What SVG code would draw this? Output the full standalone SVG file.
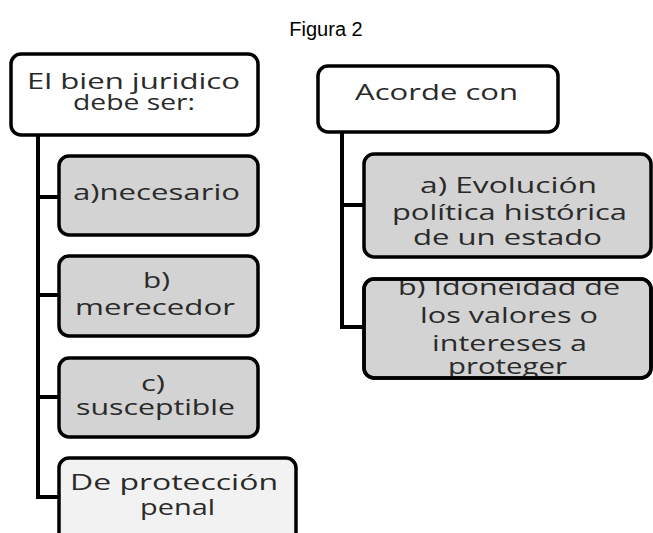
<svg xmlns="http://www.w3.org/2000/svg" width="653" height="533" viewBox="0 0 653 533">
<style>
.box{stroke:#000;stroke-width:3.5}
.w{fill:#fff}
.g{fill:#d3d3d3}
.l{fill:#f2f2f2}
.n{fill:none}
.t{font-family:"Open Sans","Noto Sans",sans-serif;font-size:22px;fill:#2a2a2a;text-anchor:middle}
.c{stroke:#000;stroke-width:4;fill:none}
</style>
<rect width="653" height="533" fill="#fff"/>
<text x="326" y="36" font-family="Liberation Sans, Arial, sans-serif" font-size="20" text-anchor="middle" fill="#000">Figura 2</text>
<g id="connectors">
<path class="c" d="M38 135 V497 M36 197 H58 M36 295 H58 M36 397 H58 M36 497 H58"/>
<path class="c" d="M342 132 V327 M340 205 H363 M340 327 H363"/>
</g>
<g id="n1"><rect class="box w" x="11" y="54" width="247" height="81" rx="10"/>
<text class="t" x="133.5" y="89" textLength="213" lengthAdjust="spacingAndGlyphs">El bien juridico</text>
<text class="t" x="134" y="110" textLength="122" lengthAdjust="spacingAndGlyphs">debe ser:</text></g>
<g id="n2"><rect class="box g" x="59" y="156" width="199" height="79" rx="10"/>
<text class="t" x="156.5" y="200" textLength="167" lengthAdjust="spacingAndGlyphs">a)necesario</text></g>
<g id="n3"><rect class="box g" x="59" y="256" width="199" height="80" rx="10"/>
<text class="t" x="156.5" y="288" textLength="27" lengthAdjust="spacingAndGlyphs">b)</text>
<text class="t" x="155" y="315" textLength="160" lengthAdjust="spacingAndGlyphs">merecedor</text></g>
<g id="n4"><rect class="box g" x="59" y="358" width="199" height="79" rx="10"/>
<text class="t" x="153" y="391" textLength="24" lengthAdjust="spacingAndGlyphs">c)</text>
<text class="t" x="155.5" y="415" textLength="159" lengthAdjust="spacingAndGlyphs">susceptible</text></g>
<g id="n5"><rect class="box l" x="59" y="458" width="237" height="90" rx="10"/>
<text class="t" x="174" y="490" textLength="208" lengthAdjust="spacingAndGlyphs">De protección</text>
<text class="t" x="177.5" y="515" textLength="75" lengthAdjust="spacingAndGlyphs">penal</text></g>
<g id="n6"><rect class="box w" x="318" y="66" width="240" height="66" rx="10"/>
<text class="t" x="436.5" y="100" textLength="163" lengthAdjust="spacingAndGlyphs">Acorde con</text></g>
<g id="n7"><rect class="box g" x="364" y="154" width="287" height="103" rx="10"/>
<text class="t" x="508.5" y="193" textLength="177" lengthAdjust="spacingAndGlyphs">a) Evolución</text>
<text class="t" x="509.5" y="220" textLength="235" lengthAdjust="spacingAndGlyphs">política histórica</text>
<text class="t" x="507.5" y="245" textLength="189" lengthAdjust="spacingAndGlyphs">de un estado</text></g>
<g id="n8"><rect class="box g" x="364" y="279" width="287" height="99" rx="10"/>
<text class="t" x="509" y="295" textLength="222" lengthAdjust="spacingAndGlyphs">b) Idoneidad de</text>
<text class="t" x="509" y="323" textLength="178" lengthAdjust="spacingAndGlyphs">los valores o</text>
<text class="t" x="509.5" y="351" textLength="155" lengthAdjust="spacingAndGlyphs">intereses a</text>
<text class="t" x="507.5" y="374" textLength="119" lengthAdjust="spacingAndGlyphs">proteger</text>
<rect class="box n" x="364" y="279" width="287" height="99" rx="10"/></g>
</svg>
